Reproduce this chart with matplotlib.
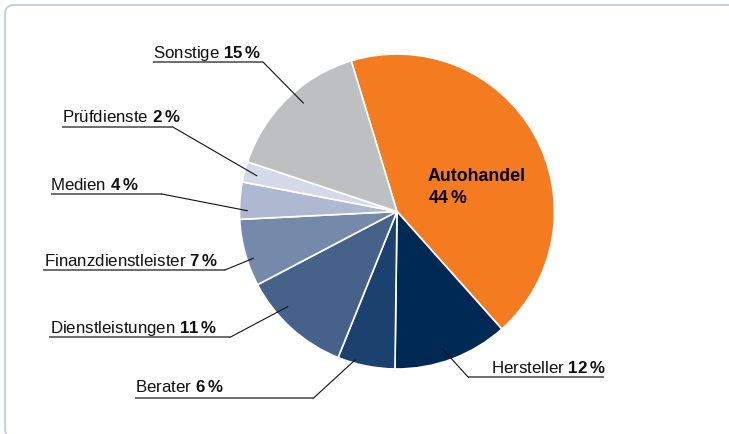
import matplotlib
matplotlib.use("Agg")
import matplotlib.pyplot as plt
from matplotlib.patches import FancyBboxPatch

plt.rcParams['font.family'] = ['Liberation Sans', 'DejaVu Sans']
plt.rcParams['mathtext.fontset'] = 'custom'
plt.rcParams['mathtext.rm'] = 'Liberation Sans'
plt.rcParams['mathtext.bf'] = 'Liberation Sans:bold'

# data (clockwise from top)
categories = ["Autohandel", "Hersteller", "Berater", "Dienstleistungen",
              "Finanzdienstleister", "Medien", "Prüfdienste", "Sonstige"]
shares = [43.1, 11.8, 5.9, 11.2, 6.9, 3.8, 2.1, 15.2]
label_pct = [44, 12, 6, 11, 7, 4, 2, 15]
colors = ["#F47B20", "#002855", "#1B426F", "#46628A",
          "#7589AB", "#AEB8D0", "#D4DAE7", "#BEBFC1"]

W, H = 729, 435
def py(y):
    # image pixel row -> data y
    return H - y

fig = plt.figure(figsize=(7.29, 4.35), dpi=100)
ax = fig.add_axes([0, 0, 1, 1])

# frame (right and bottom edges run off the canvas)
frame = FancyBboxPatch((5, py(439)), 800, 433, boxstyle="round,pad=0,rounding_size=9",
                       fc="none", ec="#C9D1E1", lw=1.5, clip_on=False)
ax.add_patch(frame)

ax.pie(shares, colors=colors, startangle=106.9, counterclock=False,
       center=(397, py(212.5)), radius=157.5,
       wedgeprops=dict(edgecolor="white", linewidth=1.2))

ax.set_xlim(0, W)
ax.set_ylim(0, H)
ax.set_aspect('auto')
ax.axis('off')

# label layout: text x, baseline y, underline x0, x1, underline y, anchor in pie
layout = {
    "Sonstige":            (153, 58.3, 152.7, 263.3, 63.3, 303.3, 104),
    "Prüfdienste":         (62, 121.7, 62, 172.3, 127.7, 256.7, 176.7),
    "Medien":              (50, 190, 51, 161.7, 195, 247.3, 211.7),
    "Finanzdienstleister": (44, 266, 43.3, 225, 271, 253.3, 259.3),
    "Dienstleistungen":    (50, 333.5, 49.3, 230, 338.3, 287.7, 307.7),
    "Berater":             (135, 392.3, 135, 313.3, 399.3, 355, 361),
    "Hersteller":          (491, 372.7, 604, 468.3, 378.3, 443.3, 350.7),
}

fs = 12.2
for name, pct in zip(categories, label_pct):
    if name == "Autohandel":
        ax.text(427.7, py(180.7), name, fontsize=12.8, fontweight='bold', va='baseline')
        ax.text(427.7, py(202.7), r"%d$\,$%%" % pct, fontsize=12.8, fontweight='bold', va='baseline')
        continue
    tx, ty, ux0, ux1, uy, axx, axy = layout[name]
    ax.text(tx, py(ty), name + r" $\mathbf{%d\,\%%}$" % pct, fontsize=fs, va='baseline', color='#111111')
    ax.plot([ux0, ux1], [py(uy), py(uy)], color='#555555', lw=1.2, solid_capstyle='butt')
    ax.plot([ux1, axx], [py(uy), py(axy)], color='#111111', lw=0.8)

fig.savefig("out.png", dpi=100)
